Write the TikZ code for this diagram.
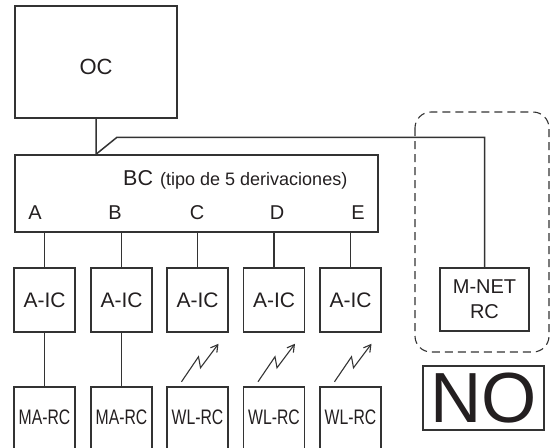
\documentclass[tikz,border=0pt]{standalone}
\usepackage{fontspec}
\setmainfont{Liberation Sans}
\usetikzlibrary{arrows.meta}
\definecolor{linec}{HTML}{333333}
\definecolor{txt}{HTML}{231F20}
\tikzset{
  box/.style={draw=linec, line width=1.5pt, rectangle, inner sep=0pt, text=txt},
  icbox/.style={box, minimum width=61pt, minimum height=64pt, font=\fontsize{21}{25}\selectfont},
  rcbox/.style={rectangle, inner sep=0pt, minimum width=61pt, minimum height=61pt, text=txt, font=\fontsize{21}{25}\selectfont},
  conn/.style={draw=linec, line width=1.5pt},
  port/.style={text=txt, font=\fontsize{20}{24}\selectfont, anchor=base, inner sep=0pt},
  zz/.style={draw=linec, line width=1.1pt, -{Straight Barb[length=7pt,width=8pt]}},
}
\newcommand{\cond}[1]{\scalebox{0.75}[1]{#1}}
\begin{document}
\begin{tikzpicture}[x=1pt,y=-1pt]
\useasboundingbox (0,0) rectangle (550,448);
% OC and BC
\node[box, minimum width=162pt, minimum height=112pt, font=\fontsize{22}{26}\selectfont, text height=24pt, text depth=0pt] (oc) at (96,62) {OC};
\node[box, minimum width=363pt, minimum height=77pt] (bc) at (196.5,193.5) {};
\node[text=txt, font=\fontsize{21.5}{25}\selectfont, anchor=base west, inner sep=0pt] (bclbl) at (123,185) {BC};
\node[text=txt, font=\fontsize{18}{22}\selectfont, anchor=base west, inner sep=0pt] (bcsub) at (160,185) {(tipo de 5 derivaciones)};
\node[port] (pa) at (35,219) {A};
\node[port] (pb) at (115,219) {B};
\node[port] (pc) at (197,219) {C};
\node[port] (pd) at (277,219) {D};
\node[port] (pe) at (358,219) {E};
% A-IC boxes
\node[icbox] (ic1) at (44.5,300) {A-IC};
\node[icbox] (ic2) at (121.5,300) {A-IC};
\node[icbox] (ic3) at (197.5,300) {A-IC};
\node[icbox] (ic4) at (274,300) {A-IC};
\node[icbox] (ic5) at (350.5,300) {A-IC};
\foreach \i in {1,...,5} {
  \draw[conn] (ic\i.north) -- (ic\i.north |- bc.south);
}
% bottom boxes (open at bottom)
\node[rcbox] (rc1) at (44.5,417.5) {\cond{MA-RC}};
\node[rcbox] (rc2) at (121.5,417.5) {\cond{MA-RC}};
\node[rcbox] (rc3) at (197.5,417.5) {\cond{WL-RC}};
\node[rcbox] (rc4) at (274,417.5) {\cond{WL-RC}};
\node[rcbox] (rc5) at (350.5,417.5) {\cond{WL-RC}};
\foreach \i in {1,...,5} {
  \draw[conn] (rc\i.south west) -- (rc\i.north west) -- (rc\i.north east) -- (rc\i.south east);
}
\draw[conn] (ic1.south) -- (rc1.north);
\draw[conn] (ic2.south) -- (rc2.north);
% wireless symbols
\foreach \i in {3,4,5} {
  \draw[zz] ([xshift=-16pt, yshift=-49pt]ic\i.south) -- ++(17,-25) -- ++(2,11) -- ++(18,-24);
}
% M-NET RC
\node[box, minimum width=89pt, minimum height=63pt, align=center, font=\fontsize{20}{25}\selectfont] (mnet) at (484.5,299.5) {M-NET\\RC};
\draw[draw=linec, line width=1.1pt, dash pattern=on 8pt off 5pt, rounded corners=16pt] (415,112) rectangle (549,352);
\draw[conn] (oc.south) -- (oc.south |- bc.north) -- ++(21,-17) -| (mnet.north);
% NO
\node[box, minimum width=121pt, minimum height=64pt, font=\fontsize{71}{80}\selectfont] (no) at (483.5,398) {NO};
\end{tikzpicture}
\end{document}
